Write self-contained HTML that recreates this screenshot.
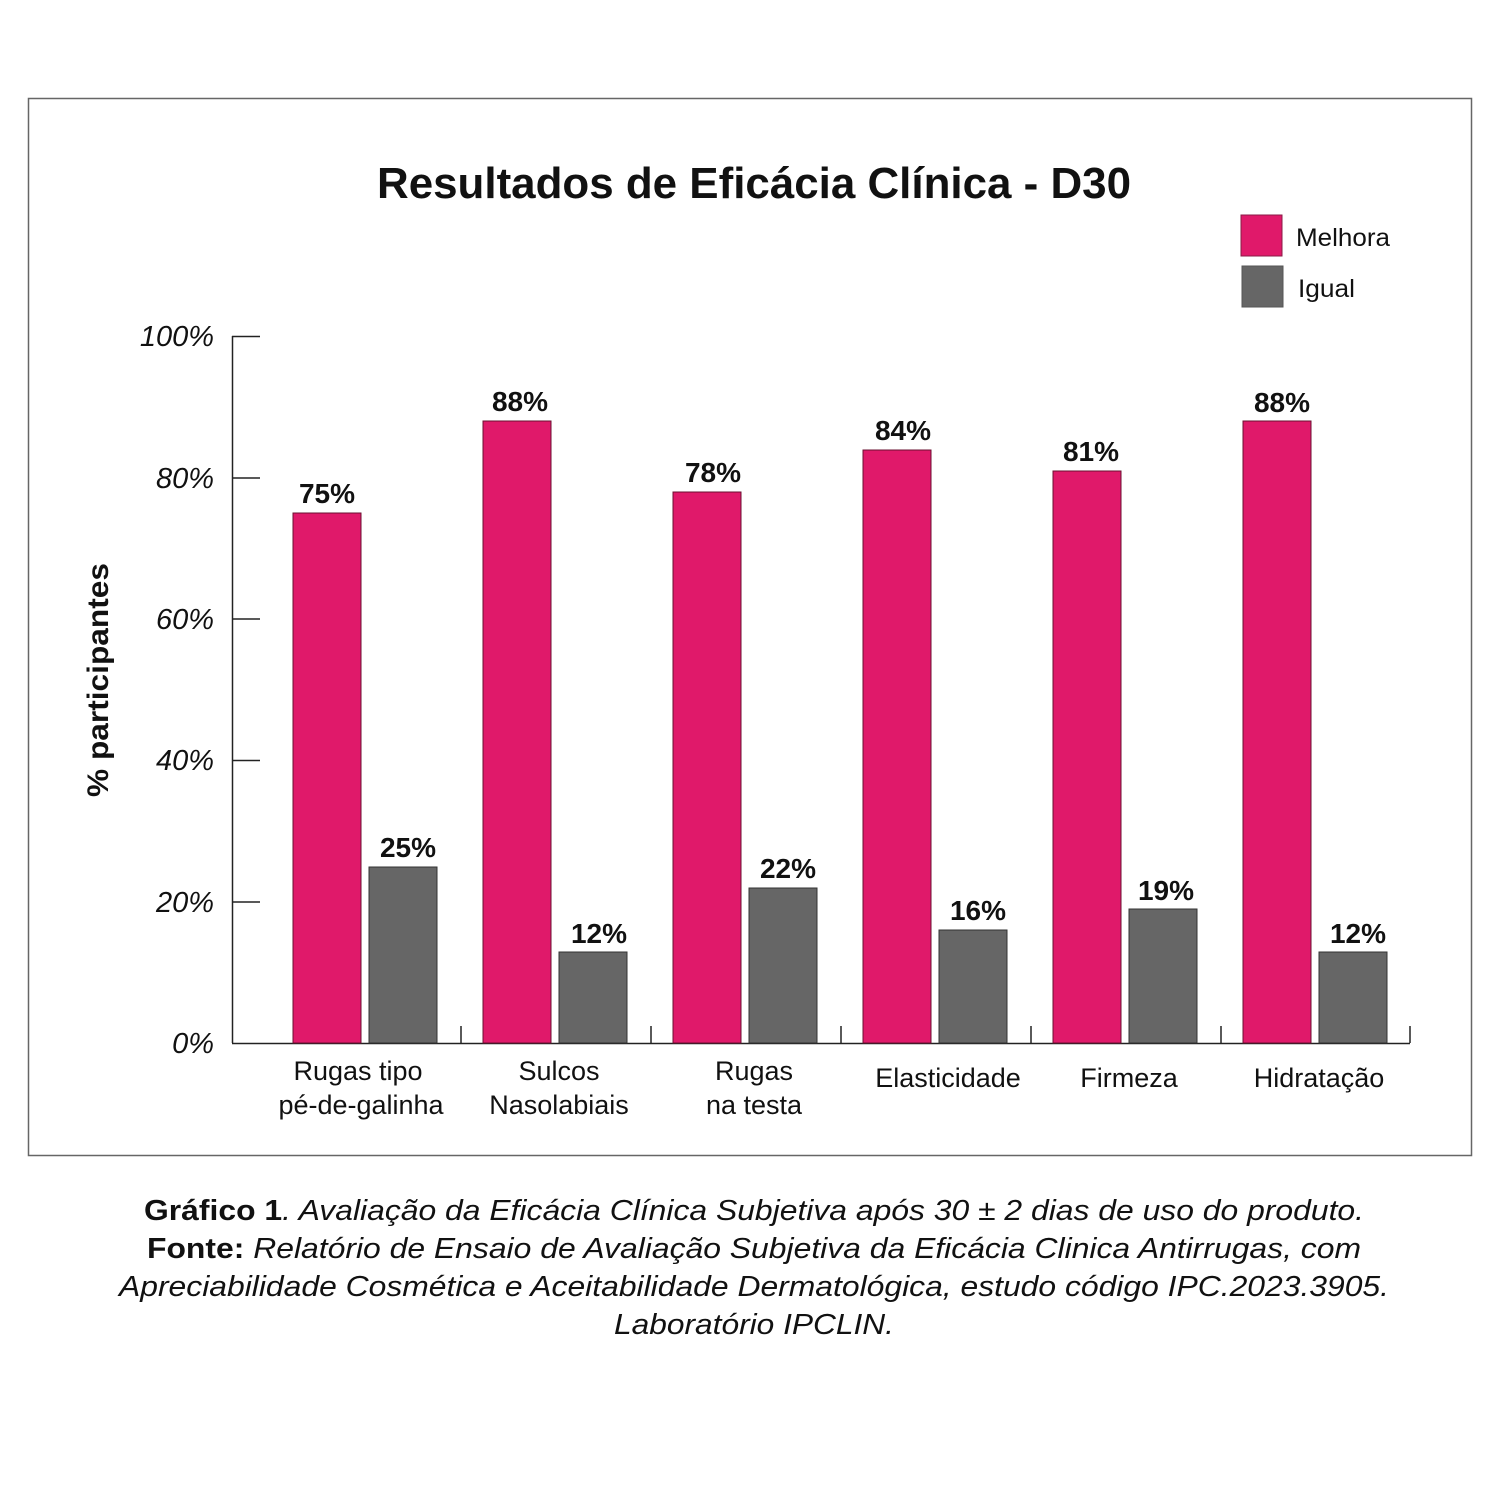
<!DOCTYPE html>
<html><head><meta charset="utf-8"><style>
html,body{margin:0;padding:0;background:#fff;}
svg{display:block;}
text{font-family:"Liberation Sans",Arial,sans-serif;}
</style></head><body>
<svg width="1500" height="1500" viewBox="0 0 1500 1500" xmlns="http://www.w3.org/2000/svg">
<rect x="28.5" y="98.5" width="1443" height="1057" fill="#fff" stroke="#666" stroke-width="1.5"/>
<text x="754" y="198" font-size="44" font-weight="bold" text-anchor="middle" fill="#111" textLength="754" lengthAdjust="spacingAndGlyphs">Resultados de Eficácia Clínica - D30</text>
<rect x="1241" y="215" width="41" height="41" fill="#e0196a" stroke="#8a1a45" stroke-width="1"/>
<text x="1296" y="246" font-size="25" fill="#111" textLength="94" lengthAdjust="spacingAndGlyphs">Melhora</text>
<rect x="1242" y="266" width="41" height="41" fill="#666" stroke="#555" stroke-width="1"/>
<text x="1298" y="297" font-size="25" fill="#111" textLength="57" lengthAdjust="spacingAndGlyphs">Igual</text>
<text transform="translate(108,680) rotate(-90)" font-size="30" font-weight="bold" text-anchor="middle" fill="#111" textLength="234" lengthAdjust="spacingAndGlyphs">% participantes</text>
<g font-size="29" font-style="italic" text-anchor="end" fill="#111">
<text x="214" y="346">100%</text>
<text x="214" y="488">80%</text>
<text x="214" y="629">60%</text>
<text x="214" y="770">40%</text>
<text x="214" y="912">20%</text>
<text x="214" y="1053">0%</text>
</g>
<g stroke="#222" stroke-width="1.5">
<line x1="232.5" y1="336" x2="232.5" y2="1043"/>
<line x1="232" y1="336.5" x2="260" y2="336.5"/>
<line x1="232" y1="478" x2="260" y2="478"/>
<line x1="232" y1="619" x2="260" y2="619"/>
<line x1="232" y1="760.5" x2="260" y2="760.5"/>
<line x1="232" y1="902" x2="260" y2="902"/>
<line x1="232" y1="1043.5" x2="1410" y2="1043.5"/>
<line x1="461" y1="1026" x2="461" y2="1043"/>
<line x1="651" y1="1026" x2="651" y2="1043"/>
<line x1="841" y1="1026" x2="841" y2="1043"/>
<line x1="1031" y1="1026" x2="1031" y2="1043"/>
<line x1="1221" y1="1026" x2="1221" y2="1043"/>
<line x1="1410" y1="1026" x2="1410" y2="1043"/>
</g>
<g fill="#e0196a" stroke="#6a1030" stroke-width="1">
<rect x="293" y="513" width="68" height="530"/>
<rect x="483" y="421" width="68" height="622"/>
<rect x="673" y="492" width="68" height="551"/>
<rect x="863" y="450" width="68" height="593"/>
<rect x="1053" y="471" width="68" height="572"/>
<rect x="1243" y="421" width="68" height="622"/>
</g>
<g fill="#666" stroke="#333" stroke-width="1">
<rect x="369" y="867" width="68" height="176"/>
<rect x="559" y="952" width="68" height="91"/>
<rect x="749" y="888" width="68" height="155"/>
<rect x="939" y="930" width="68" height="113"/>
<rect x="1129" y="909" width="68" height="134"/>
<rect x="1319" y="952" width="68" height="91"/>
</g>
<g font-size="28" font-weight="bold" text-anchor="middle" fill="#111">
<text x="327" y="503">75%</text>
<text x="520" y="411">88%</text>
<text x="713" y="482">78%</text>
<text x="903" y="440">84%</text>
<text x="1091" y="461">81%</text>
<text x="1282" y="412">88%</text>
<text x="408" y="857">25%</text>
<text x="599" y="943">12%</text>
<text x="788" y="878">22%</text>
<text x="978" y="920">16%</text>
<text x="1166" y="900">19%</text>
<text x="1358" y="943">12%</text>
</g>
<g font-size="27" text-anchor="middle" fill="#111">
<text x="358" y="1080">Rugas tipo</text>
<text x="361" y="1114">pé-de-galinha</text>
<text x="559" y="1080">Sulcos</text>
<text x="559" y="1114">Nasolabiais</text>
<text x="754" y="1080">Rugas</text>
<text x="754" y="1114">na testa</text>
<text x="948" y="1087">Elasticidade</text>
<text x="1129" y="1087">Firmeza</text>
<text x="1319" y="1087">Hidratação</text>
</g>
<g font-size="29" text-anchor="middle" fill="#111" lengthAdjust="spacingAndGlyphs">
<text x="754" y="1220" textLength="1220" lengthAdjust="spacingAndGlyphs"><tspan font-weight="bold">Gráfico 1</tspan><tspan font-style="italic">. Avaliação da Eficácia Clínica Subjetiva após 30 ± 2 dias de uso do produto.</tspan></text>
<text x="754" y="1258" textLength="1214" lengthAdjust="spacingAndGlyphs"><tspan font-weight="bold">Fonte:</tspan><tspan font-style="italic"> Relatório de Ensaio de Avaliação Subjetiva da Eficácia Clinica Antirrugas, com</tspan></text>
<text x="754" y="1296" font-style="italic" textLength="1270" lengthAdjust="spacingAndGlyphs">Apreciabilidade Cosmética e Aceitabilidade Dermatológica, estudo código IPC.2023.3905.</text>
<text x="754" y="1334" font-style="italic" textLength="280" lengthAdjust="spacingAndGlyphs">Laboratório IPCLIN.</text>
</g>
</svg>
</body></html>
